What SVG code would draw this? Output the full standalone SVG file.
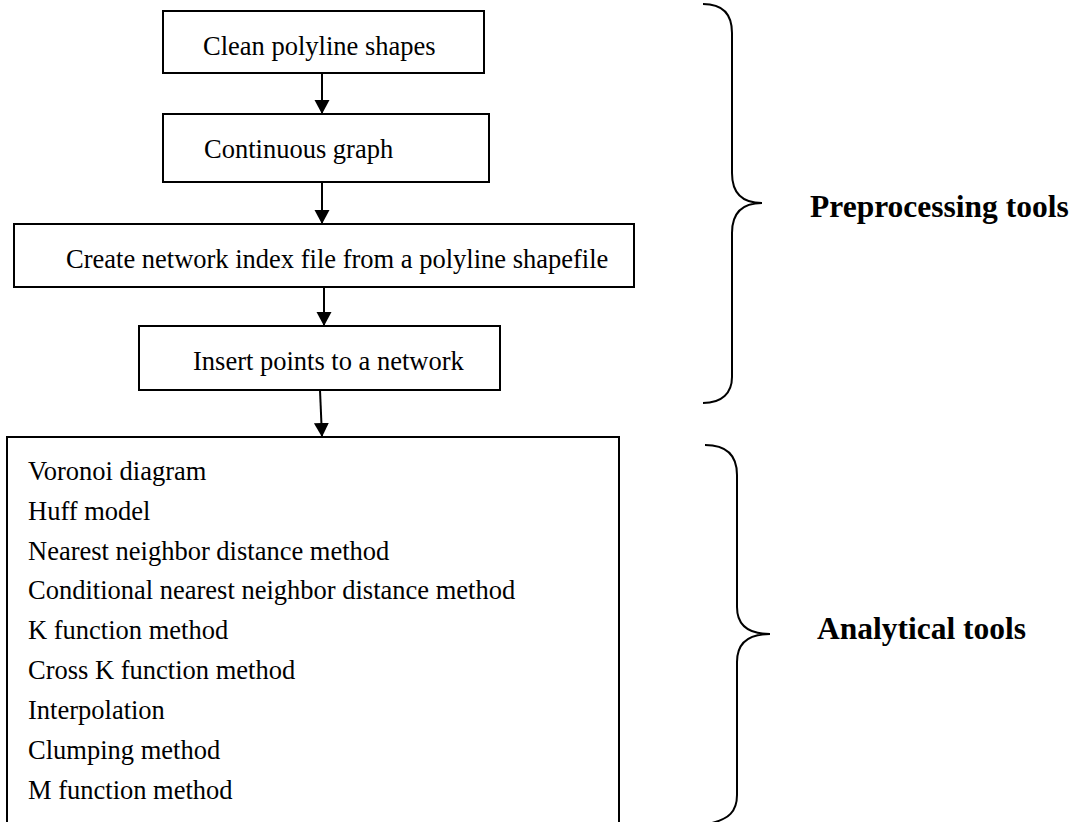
<svg xmlns="http://www.w3.org/2000/svg" width="1080" height="822" viewBox="0 0 1080 822">
<style>
.box{fill:#fff;stroke:#000;stroke-width:2}
.t{font-family:"Liberation Serif","Times New Roman",serif;font-size:26.5px;fill:#000}
.b{font-family:"Liberation Serif","Times New Roman",serif;font-size:31.5px;font-weight:bold;fill:#000}
.c{stroke:#000;stroke-width:2;fill:none}
.br{stroke:#000;stroke-width:2;fill:none}
</style>
<defs>
<marker id="ah" markerUnits="userSpaceOnUse" markerWidth="16" markerHeight="16" refX="14" refY="7.5" orient="auto">
<path d="M0,0 L14,7.5 L0,15 z" fill="#000"/>
</marker>
</defs>
<rect width="1080" height="822" fill="#fff"/>
<g id="connectors">
<line class="c" x1="322" y1="73" x2="322" y2="114" marker-end="url(#ah)"/>
<line class="c" x1="322" y1="182" x2="322" y2="224" marker-end="url(#ah)"/>
<line class="c" x1="324" y1="287" x2="324" y2="326" marker-end="url(#ah)"/>
<line class="c" x1="320" y1="390" x2="322" y2="437" marker-end="url(#ah)"/>
</g>
<g id="n1">
<rect class="box" x="163" y="11" width="321" height="62"/>
<text class="t" x="203" y="55">Clean polyline shapes</text>
</g>
<g id="n2">
<rect class="box" x="163" y="114" width="326" height="68"/>
<text class="t" x="204" y="158">Continuous graph</text>
</g>
<g id="n3">
<rect class="box" x="14" y="224" width="620" height="63"/>
<text class="t" x="66" y="268">Create network index file from a polyline shapefile</text>
</g>
<g id="n4">
<rect class="box" x="139" y="326" width="361" height="64"/>
<text class="t" x="193" y="370">Insert points to a network</text>
</g>
<g id="n5">
<rect class="box" x="7" y="437" width="612" height="400"/>
<text class="t" x="28" y="480">Voronoi diagram</text>
<text class="t" x="28" y="520">Huff model</text>
<text class="t" x="28" y="560">Nearest neighbor distance method</text>
<text class="t" x="28" y="599">Conditional nearest neighbor distance method</text>
<text class="t" x="28" y="639">K function method</text>
<text class="t" x="28" y="679">Cross K function method</text>
<text class="t" x="28" y="719">Interpolation</text>
<text class="t" x="28" y="759">Clumping method</text>
<text class="t" x="28" y="799">M function method</text>
</g>
<g id="brace1">
<path class="br" d="M703,4 C722,4 732,14 732,33 L732,173 C732,193 742,203 762,203 C742,203 732,213 732,233 L732,377 C732,393 722,403 703,403"/>
<text class="b" x="810" y="217">Preprocessing tools</text>
</g>
<g id="brace2">
<path class="br" d="M705,445 C726,445 737,455 737,475 L737,607 C737,625 748,634 770,634 C748,634 737,643 737,662 L737,795 C737,812 728,819 712,823"/>
<text class="b" x="817" y="639">Analytical tools</text>
</g>
</svg>
